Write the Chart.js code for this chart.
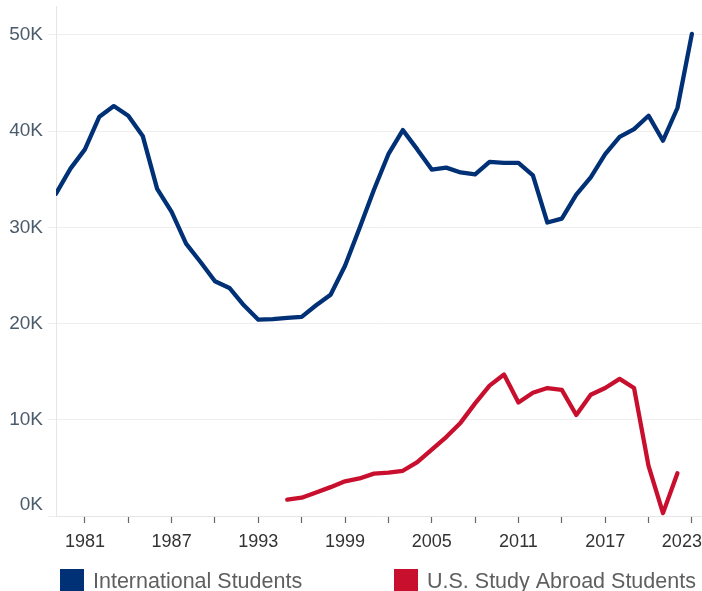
<!DOCTYPE html>
<html>
<head>
<meta charset="utf-8">
<script src="https://cdn.jsdelivr.net/npm/chart.js@4.4.1/dist/chart.umd.min.js"></script>
<style>
  html, body { margin: 0; padding: 0; background: #ffffff; }
  #wrap { width: 702px; height: 591px; position: relative; }
</style>
</head>
<body>
<div id="wrap"><canvas id="c" width="702" height="591"></canvas></div>
<script>
const intlYears = [1979,1980,1981,1982,1983,1984,1985,1986,1987,1988,1989,1990,1991,1992,1993,1994,1995,1996,1997,1998,1999,2000,2001,2002,2003,2004,2005,2006,2007,2008,2009,2010,2011,2012,2013,2014,2015,2016,2017,2018,2019,2020,2021,2022,2023];
const intlStudents = [33500,36100,38100,41500,42600,41600,39500,34000,31600,28300,26400,24400,23700,21900,20400,20450,20600,20700,21900,23000,26000,29900,33900,37600,40100,38100,36000,36200,35700,35500,36800,36700,36700,35400,30500,30900,33400,35200,37600,39400,40200,41600,39000,42400,50100];
const abroadYears = [1995,1996,1997,1998,1999,2000,2001,2002,2003,2004,2005,2006,2007,2008,2009,2010,2011,2012,2013,2014,2015,2016,2017,2018,2019,2020,2021,2022];
const abroadStudents = [1700,1900,2450,3000,3600,3900,4400,4500,4700,5600,6900,8200,9700,11700,13550,14700,11800,12800,13300,13100,10500,12600,13300,14250,13300,5200,300,4450];
const seriesNames = ["International Students", "U.S. Study Abroad Students"];
const xTickYears = [1981,1984,1987,1990,1993,1996,1999,2002,2005,2008,2011,2014,2017,2020,2023];
const xLabelYears = [1981,1987,1993,1999,2005,2011,2017,2023];
const yTickValues = [0,10000,20000,30000,40000,50000];

const NAVY = '#003075';
const RED = '#c8102e';
const FONT = "'Liberation Sans', Arial, Helvetica, sans-serif";

const legendPlugin = {
  id: 'customLegend',
  afterDraw(chart) {
    const ctx = chart.ctx;
    const items = [
      { color: NAVY, text: seriesNames[0], x: 60 },
      { color: RED, text: seriesNames[1], x: 394 }
    ];
    ctx.save();
    ctx.font = '21.5px ' + FONT;
    ctx.textBaseline = 'alphabetic';
    ctx.textAlign = 'left';
    items.forEach(it => {
      ctx.fillStyle = it.color;
      ctx.fillRect(it.x, 569, 24, 24);
      ctx.fillStyle = '#5f5f5f';
      ctx.fillText(it.text, it.x + 33, 588);
    });
    ctx.restore();
  }
};

const lastYear = xLabelYears[xLabelYears.length - 1];

new Chart(document.getElementById('c'), {
  type: 'line',
  data: {
    datasets: [
      {
        label: seriesNames[0],
        data: intlYears.map((y, i) => ({ x: y, y: intlStudents[i] })),
        borderColor: NAVY,
        backgroundColor: NAVY,
        borderWidth: 4.3,
        pointRadius: 0,
        tension: 0,
        borderJoinStyle: 'round',
        borderCapStyle: 'round'
      },
      {
        label: seriesNames[1],
        data: abroadYears.map((y, i) => ({ x: y, y: abroadStudents[i] })),
        borderColor: RED,
        backgroundColor: RED,
        borderWidth: 4.3,
        pointRadius: 0,
        tension: 0,
        borderJoinStyle: 'round',
        borderCapStyle: 'round'
      }
    ]
  },
  options: {
    responsive: false,
    animation: false,
    devicePixelRatio: 1,
    layout: { padding: { top: 6, bottom: 35, left: 0, right: 0 } },
    plugins: {
      legend: { display: false },
      tooltip: { enabled: false }
    },
    scales: {
      x: {
        type: 'linear',
        min: 1979,
        max: 2023.7,
        afterBuildTicks: s => { s.ticks = xTickYears.map(v => ({ value: v })); },
        afterFit: s => { s.height = 40; s.paddingLeft = 0; s.paddingRight = 0; },
        ticks: {
          autoSkip: false,
          maxRotation: 0,
          padding: 8,
          color: '#333333',
          font: { family: FONT, size: 18 },
          callback: v => {
            if (!xLabelYears.includes(v)) return '';
            return v === lastYear ? String(v) + '    ' : String(v);
          }
        },
        grid: {
          drawOnChartArea: false,
          drawTicks: true,
          tickLength: 7,
          color: '#666666',
          tickWidth: 1.2
        },
        border: { display: true, color: '#e6e6e6', width: 1 }
      },
      y: {
        type: 'linear',
        min: 0,
        max: 53000,
        afterBuildTicks: s => { s.ticks = yTickValues.map(v => ({ value: v })); },
        afterFit: s => { s.width = 56; s.paddingTop = 0; s.paddingBottom = 0; },
        ticks: {
          padding: 5,
          color: '#4b5b6b',
          font: { family: FONT, size: 19 },
          callback: v => v === 0 ? ['0K', ''] : (v / 1000) + 'K'
        },
        grid: {
          color: '#eeeeee',
          lineWidth: 1,
          tickLength: 8
        },
        border: { display: true, color: '#e6e6e6', width: 1 }
      }
    }
  },
  plugins: [legendPlugin]
});
</script>
</body>
</html>
